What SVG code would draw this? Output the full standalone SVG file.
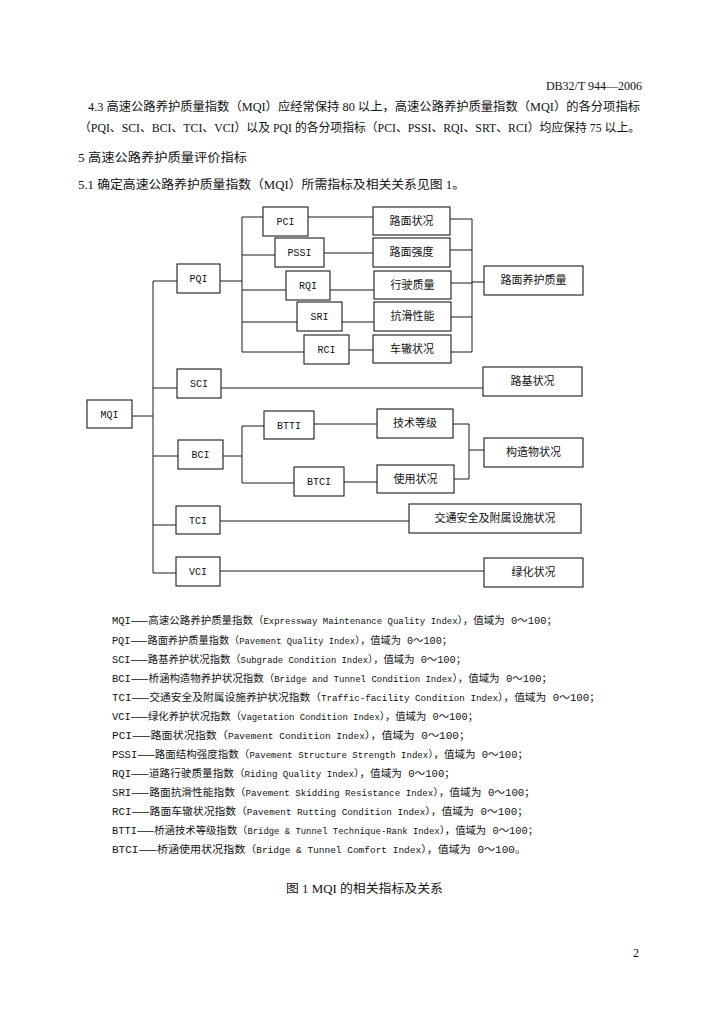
<svg xmlns="http://www.w3.org/2000/svg" width="724" height="1024" viewBox="0 0 724 1024">
<style>
.bg{fill:#fff}
.box{fill:#fff;stroke:#1a1a1a;stroke-width:1.1}
.ln{fill:none;stroke:#1a1a1a;stroke-width:1}
.t{font-family:"Liberation Serif","Noto Sans CJK SC",serif;font-size:12px;fill:#111}
.lat{font-family:"Liberation Mono","Noto Sans CJK SC",monospace;font-size:10px;fill:#111;text-anchor:middle}
.cn{font-family:"Noto Sans CJK SC",sans-serif;font-size:11px;fill:#111;text-anchor:middle}
.lg{font-family:"Liberation Mono","Noto Sans CJK SC",monospace;font-size:10px;fill:#111}
.d{font-family:"Noto Sans CJK SC",sans-serif}
.e{font-size:8.6px}
</style>
<rect class="bg" x="0" y="0" width="724" height="1024"/>
<g id="page-text">
<text class="t" x="642" y="90" text-anchor="end">DB32/T 944—2006</text>
<text class="t" x="88" y="111" textLength="552" lengthAdjust="spacingAndGlyphs">4.3  高速公路养护质量指数（MQI）应经常保持 80 以上，高速公路养护质量指数（MQI）的各分项指标</text>
<text class="t" x="79" y="132" textLength="561" lengthAdjust="spacingAndGlyphs">（PQI、SCI、BCI、TCI、VCI）以及 PQI 的各分项指标（PCI、PSSI、RQI、SRT、RCI）均应保持 75 以上。</text>
<text class="t" x="78" y="162" textLength="169" lengthAdjust="spacingAndGlyphs">5   高速公路养护质量评价指标</text>
<text class="t" x="78" y="189" textLength="387" lengthAdjust="spacingAndGlyphs">5.1  确定高速公路养护质量指数（MQI）所需指标及相关关系见图 1。</text>
<text class="t" x="286" y="893" textLength="157" lengthAdjust="spacingAndGlyphs">图 1 MQI 的相关指标及关系</text>
<text class="t" x="633" y="957" font-size="11">2</text>
</g>
<g id="legend">
<text class="lg" x="112" y="624" textLength="445" lengthAdjust="spacingAndGlyphs">MQI<tspan class="d">——</tspan>高速公路养护质量指数（<tspan class="e">Expressway Maintenance Quality Index</tspan>），值域为 0～100；</text>
<text class="lg" x="112" y="644" textLength="340" lengthAdjust="spacingAndGlyphs">PQI<tspan class="d">——</tspan>路面养护质量指数（<tspan class="e">Pavement Quality Index</tspan>），值域为 0～100；</text>
<text class="lg" x="112" y="663" textLength="354" lengthAdjust="spacingAndGlyphs">SCI<tspan class="d">——</tspan>路基养护状况指数（<tspan class="e">Subgrade Condition Index</tspan>），值域为 0～100；</text>
<text class="lg" x="112" y="682" textLength="440" lengthAdjust="spacingAndGlyphs">BCI<tspan class="d">——</tspan>桥涵构造物养护状况指数（<tspan class="e">Bridge and Tunnel Condition Index</tspan>），值域为 0～100；</text>
<text class="lg" x="112" y="701" textLength="488" lengthAdjust="spacingAndGlyphs">TCI<tspan class="d">——</tspan>交通安全及附属设施养护状况指数（<tspan class="e">Traffic-facility Condition Index</tspan>），值域为 0～100；</text>
<text class="lg" x="112" y="720" textLength="366" lengthAdjust="spacingAndGlyphs">VCI<tspan class="d">——</tspan>绿化养护状况指数（<tspan class="e">Vagetation Condition Index</tspan>），值域为 0～100；</text>
<text class="lg" x="112" y="739" textLength="358" lengthAdjust="spacingAndGlyphs">PCI<tspan class="d">——</tspan>路面状况指数（<tspan class="e">Pavement Condition Index</tspan>），值域为 0～100；</text>
<text class="lg" x="112" y="758" textLength="416" lengthAdjust="spacingAndGlyphs">PSSI<tspan class="d">——</tspan>路面结构强度指数（<tspan class="e">Pavement Structure Strength Index</tspan>），值域为 0～100；</text>
<text class="lg" x="112" y="777" textLength="343" lengthAdjust="spacingAndGlyphs">RQI<tspan class="d">——</tspan>道路行驶质量指数（<tspan class="e">Riding Quality Index</tspan>），值域为 0～100；</text>
<text class="lg" x="112" y="796" textLength="423" lengthAdjust="spacingAndGlyphs">SRI<tspan class="d">——</tspan>路面抗滑性能指数（<tspan class="e">Pavement Skidding Resistance Index</tspan>），值域为 0～100；</text>
<text class="lg" x="112" y="815" textLength="416" lengthAdjust="spacingAndGlyphs">RCI<tspan class="d">——</tspan>路面车辙状况指数（<tspan class="e">Pavement Rutting Condition Index</tspan>），值域为 0～100；</text>
<text class="lg" x="112" y="834" textLength="426" lengthAdjust="spacingAndGlyphs">BTTI<tspan class="d">——</tspan>桥涵技术等级指数（<tspan class="e">Bridge &amp; Tunnel Technique-Rank Index</tspan>），值域为 0～100；</text>
<text class="lg" x="112" y="853" textLength="414" lengthAdjust="spacingAndGlyphs">BTCI<tspan class="d">——</tspan>桥涵使用状况指数（<tspan class="e">Bridge &amp; Tunnel Comfort Index</tspan>），值域为 0～100。</text>
</g>
<g id="connectors">
<path class="ln" d="M132 416H153M153 281V573M153 281H177M153 388H177M153 456H178M153 525H176M153 573H176"/>
<path class="ln" d="M220 281H242M242 217V352M242 217H263M242 255H275M242 290H286M242 322H297M242 352H304"/>
<path class="ln" d="M308 217H373M324 253H373M330 290H374M342 322H374M349 350H373"/>
<path class="ln" d="M450 219H472M450 250H472M451 283H472M451 317H472M451 352H472M472 219V352M472 282H484"/>
<path class="ln" d="M221 388H483"/>
<path class="ln" d="M223 456H242M242 426V483M242 426H264M242 483H294M314 424H377M344 482H377"/>
<path class="ln" d="M453 424H469M454 479H469M469 424V479M469 450H484"/>
<path class="ln" d="M220 521H409M220 571H484"/>
</g>
<g id="node-mqi"><rect class="box" x="87" y="400" width="45" height="28"/><text class="lat" x="109.5" y="418">MQI</text></g>
<g id="node-pqi"><rect class="box" x="177" y="264" width="43" height="29"/><text class="lat" x="198.5" y="282">PQI</text></g>
<g id="node-sci"><rect class="box" x="177" y="369" width="44" height="29"/><text class="lat" x="199" y="387">SCI</text></g>
<g id="node-bci"><rect class="box" x="178" y="440" width="45" height="29"/><text class="lat" x="200.5" y="458">BCI</text></g>
<g id="node-tci"><rect class="box" x="176" y="506" width="44" height="28"/><text class="lat" x="198" y="524">TCI</text></g>
<g id="node-vci"><rect class="box" x="176" y="557" width="44" height="29"/><text class="lat" x="198" y="575">VCI</text></g>
<g id="node-pci"><rect class="box" x="263" y="207" width="45" height="29"/><text class="lat" x="285.5" y="225">PCI</text></g>
<g id="node-pssi"><rect class="box" x="275" y="238" width="49" height="29"/><text class="lat" x="299.5" y="256">PSSI</text></g>
<g id="node-rqi"><rect class="box" x="286" y="271" width="44" height="29"/><text class="lat" x="308" y="289">RQI</text></g>
<g id="node-sri"><rect class="box" x="297" y="302" width="45" height="29"/><text class="lat" x="319.5" y="320">SRI</text></g>
<g id="node-rci"><rect class="box" x="304" y="335" width="45" height="29"/><text class="lat" x="326.5" y="353">RCI</text></g>
<g id="node-btti"><rect class="box" x="264" y="411" width="50" height="28"/><text class="lat" x="289" y="429">BTTI</text></g>
<g id="node-btci"><rect class="box" x="294" y="467" width="50" height="29"/><text class="lat" x="319" y="485">BTCI</text></g>
<g id="node-lmzk"><rect class="box" x="373" y="207" width="77" height="28"/><text class="cn" x="411.5" y="225">路面状况</text></g>
<g id="node-lmqd"><rect class="box" x="373" y="238" width="77" height="29"/><text class="cn" x="411.5" y="256">路面强度</text></g>
<g id="node-xszl"><rect class="box" x="374" y="271" width="77" height="28"/><text class="cn" x="412.5" y="289">行驶质量</text></g>
<g id="node-khxn"><rect class="box" x="374" y="302" width="77" height="29"/><text class="cn" x="412.5" y="320">抗滑性能</text></g>
<g id="node-czzk"><rect class="box" x="373" y="335" width="78" height="28"/><text class="cn" x="412" y="353">车辙状况</text></g>
<g id="node-lmyhzl"><rect class="box" x="484" y="266" width="99" height="29"/><text class="cn" x="533.5" y="284">路面养护质量</text></g>
<g id="node-ljzk"><rect class="box" x="483" y="367" width="99" height="29"/><text class="cn" x="532.5" y="385">路基状况</text></g>
<g id="node-jsdj"><rect class="box" x="377" y="409" width="76" height="29"/><text class="cn" x="415" y="427">技术等级</text></g>
<g id="node-syzk"><rect class="box" x="377" y="465" width="77" height="28"/><text class="cn" x="415.5" y="483">使用状况</text></g>
<g id="node-gzwzk"><rect class="box" x="484" y="438" width="99" height="29"/><text class="cn" x="533.5" y="456">构造物状况</text></g>
<g id="node-jtaq"><rect class="box" x="409" y="504" width="172" height="29"/><text class="cn" x="495" y="522">交通安全及附属设施状况</text></g>
<g id="node-lhzk"><rect class="box" x="484" y="558" width="99" height="29"/><text class="cn" x="533.5" y="576">绿化状况</text></g>
</svg>
